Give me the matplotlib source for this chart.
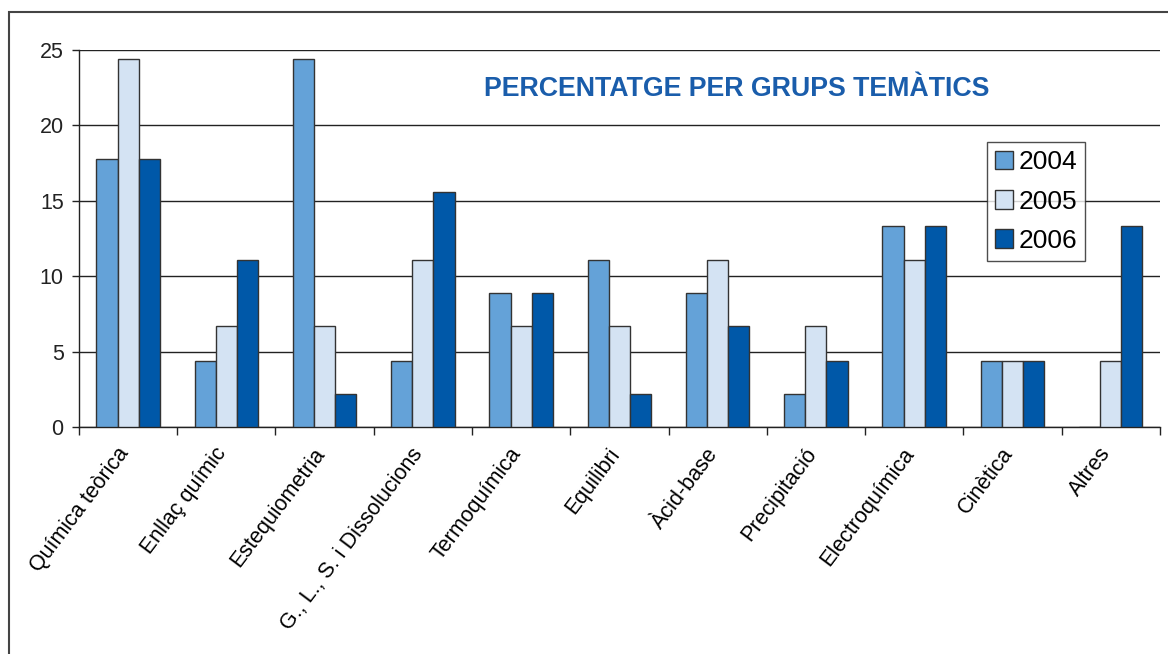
import numpy as np
import matplotlib
matplotlib.use('Agg')
import matplotlib.pyplot as plt
import matplotlib.transforms as mtransforms
from matplotlib.patches import Rectangle

# Data
categories = ['Química teòrica', 'Enllaç químic', 'Estequiometria', 'G., L., S. i Dissolucions',
              'Termoquímica', 'Equilibri', 'Àcid-base', 'Precipitació', 'Electroquímica',
              'Cinètica', 'Altres']
v2004 = [17.8, 4.4, 24.4, 4.4, 8.9, 11.1, 8.9, 2.2, 13.3, 4.4, 0.0]
v2005 = [24.4, 6.7, 6.7, 11.1, 6.7, 6.7, 11.1, 6.7, 11.1, 4.4, 4.4]
v2006 = [17.8, 11.1, 2.2, 15.6, 8.9, 2.2, 6.7, 4.4, 13.3, 4.4, 13.3]
years = ['2004', '2005', '2006']
colors = ['#64A2D8', '#D4E3F3', '#0058A8']

plt.rcParams['font.family'] = ['Liberation Sans', 'DejaVu Sans']

fig = plt.figure(figsize=(11.68, 6.54), dpi=100)
ax = fig.add_axes([0.0676, 0.347, 0.9254, 0.5765])

x = np.arange(len(categories))
w = 0.215
for i, (vals, lab, c) in enumerate(zip([v2004, v2005, v2006], years, colors)):
    ax.bar(x + (i - 1) * w, vals, w, color=c, edgecolor='#333333', linewidth=1.0,
           label=lab, zorder=3)

ax.set_xlim(-0.5, len(categories) - 0.5)
ax.set_ylim(0, 25)
ax.set_yticks([0, 5, 10, 15, 20, 25])
ax.yaxis.grid(True, color='#222222', linewidth=1.0, zorder=0)
ax.tick_params(axis='y', labelsize=15.5, length=5, width=1, colors='#222222', pad=6)

ax.set_xticks(x)
ax.set_xticklabels(categories, rotation=53, ha='right', rotation_mode='anchor', fontsize=15.5)
ax.tick_params(axis='x', which='major', length=0, pad=12)
ax.set_xticks(np.arange(len(categories) + 1) - 0.5, minor=True)
ax.tick_params(axis='x', which='minor', length=6, width=1, color='#222222')
shift = mtransforms.ScaledTranslation(-0.12, 0.0, fig.dpi_scale_trans)
for t in ax.get_xticklabels():
    t.set_transform(t.get_transform() + shift)

for s in ['top', 'right']:
    ax.spines[s].set_visible(False)
for s in ['left', 'bottom']:
    ax.spines[s].set_color('#222222')
    ax.spines[s].set_linewidth(1.0)

leg = ax.legend(loc='upper left', bbox_to_anchor=(0.84, 0.755), fontsize=19,
                frameon=True, fancybox=False, edgecolor='#222222',
                handlelength=0.7, handleheight=0.7, handletextpad=0.2,
                borderpad=0.3, labelspacing=0.58, borderaxespad=0)
leg.get_frame().set_linewidth(1.0)
leg.set_zorder(5)

fig.text(0.631, 0.864, 'PERCENTATGE PER GRUPS TEMÀTICS', color='#1A5DAB',
         fontsize=19.3, fontweight='bold', ha='center', va='center')

# outer frame
fig.patches.append(Rectangle((0.008, -0.05), 1.2, 1.032, transform=fig.transFigure,
                             fill=False, edgecolor='#444444', linewidth=1.5))

fig.savefig('out.png', dpi=100)
